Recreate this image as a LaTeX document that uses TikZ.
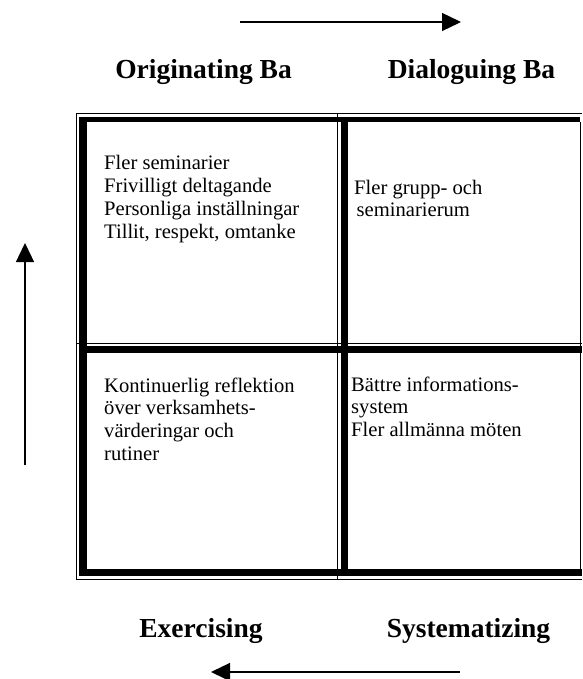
\documentclass[tikz,border=0pt]{standalone}
\usepackage{fontspec}
\setmainfont{Liberation Serif}
\usetikzlibrary{arrows.meta}
\tikzset{
  title/.style={font=\fontsize{27.5}{30}\selectfont\bfseries, anchor=base, inner sep=0pt},
  cell/.style={font=\fontsize{20.6}{22.7}\selectfont, anchor=base west, inner sep=0pt},
  thinrule/.style={line width=1pt},
  flow/.style={line width=1.3pt, -{Triangle[length=19pt,width=18pt]}}
}
\newcommand{\celltext}[1]{\begin{tabular}[t]{@{}l@{}}#1\end{tabular}}
\begin{document}
\begin{tikzpicture}[x=1pt,y=-1pt]
\useasboundingbox (0,0) rectangle (582,679);
% outer thin frame
\draw[thinrule] (582,113.5) -- (76.5,113.5) -- (76.5,579) -- (582,579);
\draw[thinrule] (580.5,122) -- (580.5,569);
% thick inner frame
\draw[line width=8pt] (83,117) -- (83,576);
\draw[line width=5pt] (79,119.5) -- (580,119.5);
\draw[line width=7pt] (79,572.5) -- (582,572.5);
% middle vertical
\draw[thinrule] (337.5,113) -- (337.5,579);
\draw[line width=7pt] (344.5,117) -- (344.5,576);
% middle horizontal
\draw[thinrule] (76.5,343) -- (582,343);
\draw[line width=7pt] (79,349.5) -- (582,349.5);
% titles
\node[title] (orig) at (203.5,79) {Originating Ba};
\node[title] (dial) at (471.5,79) {Dialoguing Ba};
\node[title] (exer) at (201,637) {Exercising};
\node[title] (syst) at (468.5,637) {Systematizing};
% cell texts
\node[cell] (tl) at (104,170) {\celltext{Fler seminarier\\Frivilligt deltagande\\Personliga inställningar\\Tillit, respekt, omtanke}};
\node[cell] (tr) at (354,194) {\celltext{Fler grupp- och\\\hspace*{2.5pt}seminarierum}};
\node[cell] (bl) at (104,392) {\celltext{Kontinuerlig reflektion\\över verksamhets-\\värderingar och\\rutiner}};
\node[cell] (br) at (351,391) {\celltext{Bättre informations-\\system\\Fler allmänna möten}};
% arrows
\coordinate (ta) at (240,22);
\coordinate (tb) at (461,22);
\draw[flow] (ta) -- (tb);
\coordinate (la) at (25,465);
\coordinate (lb) at (25,243);
\draw[flow] (la) -- (lb);
\coordinate (ba) at (460,672);
\coordinate (bb) at (211,672);
\draw[flow] (ba) -- (bb);
\end{tikzpicture}
\end{document}
